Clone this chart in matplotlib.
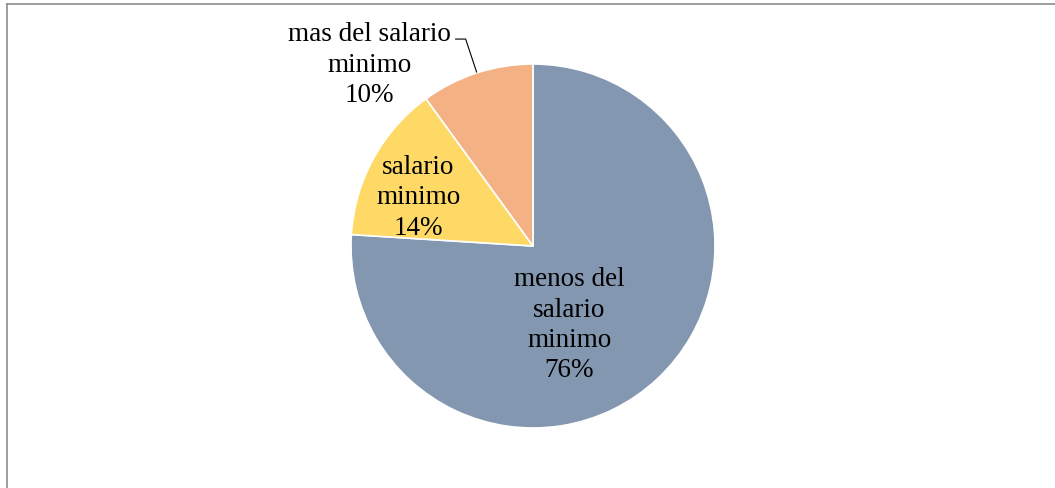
import matplotlib.pyplot as plt
from matplotlib.lines import Line2D

labels = ['menos del\nsalario\nminimo', 'salario\nminimo', 'mas del salario\nminimo']
values = [76, 14, 10]
colors = ['#8497B0', '#FFD966', '#F4B183']

plt.rcParams['font.family'] = ['Liberation Serif', 'DejaVu Serif']

W, H = 1055, 489
fig = plt.figure(figsize=(W / 100, H / 100), dpi=100)

# pie axes, placed in pixels
cx, cy, r = 533, 247, 182
ax = fig.add_axes([(cx - r) / W, (H - cy - r) / H, 2 * r / W, 2 * r / H])
wedges, _ = ax.pie(values, colors=colors, startangle=90, counterclock=False,
                   wedgeprops=dict(edgecolor='white', linewidth=1.2))
ax.set_xlim(-1, 1)
ax.set_ylim(-1, 1)
ax.set_aspect('equal')
ax.axis('off')

# data labels
pos = [(0.20, -0.43), (-0.63, 0.27), (-0.90, 1.00)]
for lab, v, (x, y) in zip(labels, values, pos):
    ax.text(x, y, f'{lab}\n{v}%', ha='center', va='center', fontsize=19.5,
            linespacing=1.28, clip_on=False)

# leader line for the small slice
ax.add_line(Line2D([-0.425, -0.37, -0.31], [1.137, 1.137, 0.956], color='black',
                   linewidth=0.8, clip_on=False))

# chart area border (top and left only visible)
fig.add_artist(Line2D([7 / W, 7 / W], [0, 1 - 5 / H], color='#8c8c8c',
                      linewidth=1.2, transform=fig.transFigure))
fig.add_artist(Line2D([7 / W, 1], [1 - 5 / H, 1 - 5 / H], color='#8c8c8c',
                      linewidth=1.2, transform=fig.transFigure))

fig.savefig('out.png', dpi=100)
